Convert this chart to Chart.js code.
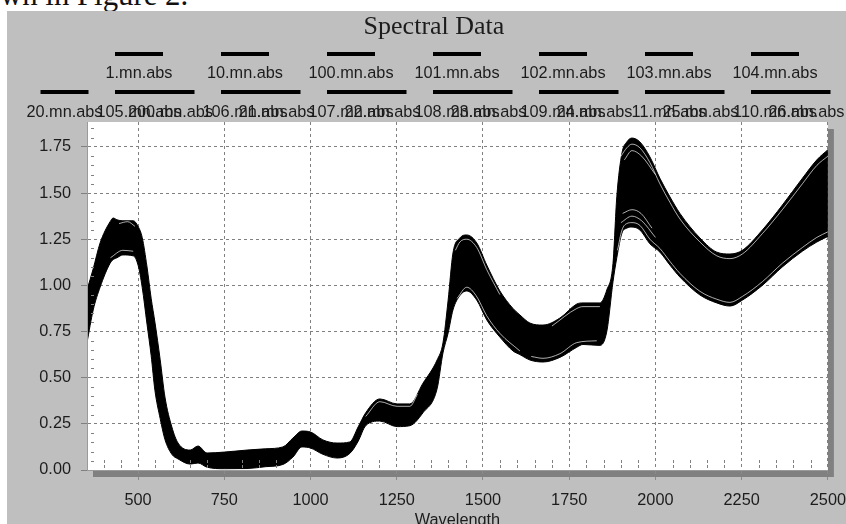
<!DOCTYPE html>
<html>
<head>
<meta charset="utf-8">
<title>Spectral Data</title>
<script src="https://cdn.jsdelivr.net/npm/chart.js@4"></script>
<style>
    html, body { margin: 0; padding: 0; background: #fff; width: 846px; height: 524px; overflow: hidden; }
    #caption { position: absolute; left: 0; top: -20px; font: 30.8px/30px "Liberation Serif", serif; color: #111; white-space: pre; }
    #panel { position: absolute; left: 7px; top: 11px; width: 839px; height: 513px; background: #bfbfbf; }
    #wrap { position: absolute; left: 0; top: 0; width: 846px; height: 524px; overflow: hidden; }
</style>
</head>
<body>
<div id="caption">wn in Figure 2.</div>
<div id="panel"></div>
<div id="wrap"><canvas id="graph" width="854" height="524"></canvas></div>
<script>
const chartTitle = 'Spectral Data';
const xTitle = 'Wavelength';

const xTicks = [500, 750, 1000, 1250, 1500, 1750, 2000, 2250, 2500];
const yTicks = [0, 0.25, 0.5, 0.75, 1, 1.25, 1.5, 1.75];

const legendRow1 = ['1.mn.abs', '10.mn.abs', '100.mn.abs', '101.mn.abs', '102.mn.abs', '103.mn.abs', '104.mn.abs'];
const legendRow2a = ['105.mn.abs', '106.mn.abs', '107.mn.abs', '108.mn.abs', '109.mn.abs', '11.mn.abs', '110.mn.abs'];
const legendRow2b = ['20.mn.abs', '200.mn.abs', '21.mn.abs', '22.mn.abs', '23.mn.abs', '24.mn.abs', '25.mn.abs', '26.mn.abs'];

// Envelope of all the spectra
const wavelengths = [352, 370, 390, 419, 428, 439, 456, 486, 500, 512, 526, 538, 549, 564, 578, 598, 616, 651, 674, 700,
    750, 816, 870, 920, 949, 975, 1000, 1036, 1077, 1114, 1138, 1160, 1201, 1251, 1288, 1326, 1367, 1384, 1399, 1413,
    1433, 1453, 1482, 1511, 1549, 1587, 1607, 1636, 1674, 1723, 1772, 1790, 1839, 1859, 1877, 1888, 1903, 1917, 1932, 1955,
    1984, 2013, 2042, 2071, 2129, 2178, 2216, 2252, 2310, 2368, 2426, 2468, 2500];
const upperEdge = [0.975, 1.09, 1.23, 1.345, 1.365, 1.355, 1.35, 1.35, 1.32, 1.26, 1.10, 0.93, 0.80, 0.60, 0.395, 0.233, 0.146, 0.108, 0.13, 0.092,
    0.097, 0.108, 0.115, 0.125, 0.173, 0.211, 0.206, 0.163, 0.146, 0.152, 0.233, 0.31, 0.385, 0.358, 0.358, 0.47, 0.596, 0.688, 0.92, 1.175,
    1.257, 1.273, 1.23, 1.11, 0.97, 0.875, 0.84, 0.796, 0.785, 0.823, 0.899, 0.905, 0.905, 0.975, 1.12, 1.48, 1.717, 1.777, 1.798, 1.777,
    1.696, 1.58, 1.48, 1.39, 1.257, 1.18, 1.17, 1.19, 1.30, 1.435, 1.58, 1.68, 1.735];
const lowerEdge = [0.69, 0.867, 0.99, 1.12, 1.14, 1.15, 1.165, 1.16, 1.11, 0.99, 0.79, 0.62, 0.43, 0.28, 0.165, 0.085, 0.06, 0.032, 0.038, 0.015,
    0.007, 0.008, 0.018, 0.03, 0.07, 0.125, 0.119, 0.085, 0.065, 0.09, 0.155, 0.24, 0.265, 0.235, 0.24, 0.31, 0.44, 0.634, 0.742, 0.867,
    0.945, 0.97, 0.92, 0.813, 0.72, 0.645, 0.625, 0.596, 0.585, 0.61, 0.665, 0.68, 0.675, 0.75, 1.02, 1.15, 1.284, 1.31, 1.316, 1.30,
    1.225, 1.18, 1.11, 1.045, 0.948, 0.905, 0.888, 0.92, 1.00, 1.10, 1.185, 1.235, 1.265];

// White slits left between the outermost spectra and the dense band
const slitPeakTopX = [1900, 1917, 1932, 1955, 1984, 2013, 2042, 2071, 2129, 2178, 2216, 2252, 2310, 2368, 2426, 2468, 2500];
const slitPeakTopY = [1.70, 1.745, 1.765, 1.745, 1.665, 1.55, 1.45, 1.36, 1.235, 1.16, 1.145, 1.17, 1.28, 1.41, 1.55, 1.65, 1.70];
const slitPeakTop2X = [1910, 1932, 1960, 2000];
const slitPeakTop2Y = [1.68, 1.73, 1.70, 1.60];
const slitPeakLowX = [1890, 1903, 1917, 1932, 1955, 1984, 2013, 2042, 2071, 2129, 2178, 2216, 2252, 2310, 2368, 2426, 2468, 2500];
const slitPeakLowY = [1.19, 1.30, 1.335, 1.34, 1.325, 1.25, 1.20, 1.13, 1.065, 0.968, 0.925, 0.908, 0.94, 1.02, 1.12, 1.205, 1.26, 1.29];
const slitPeakLow2X = [1900, 1932, 1960, 2000];
const slitPeakLow2Y = [1.34, 1.375, 1.35, 1.26];
const slitPeakLow3X = [1905, 1932, 1958, 1990];
const slitPeakLow3Y = [1.39, 1.41, 1.39, 1.31];
const slitWaterTopX = [1420, 1433, 1453, 1482, 1511, 1549];
const slitWaterTopY = [1.19, 1.235, 1.25, 1.205, 1.085, 0.95];
const slitWaterLowX = [1425, 1453, 1480, 1511, 1549, 1607];
const slitWaterLowY = [0.93, 0.99, 0.945, 0.835, 0.74, 0.645];
const slitShoulderTopX = [1700, 1772, 1790, 1839];
const slitShoulderTopY = [0.78, 0.875, 0.885, 0.885];
const slitShoulderLowX = [1640, 1674, 1723, 1772, 1830];
const slitShoulderLowY = [0.615, 0.605, 0.63, 0.69, 0.70];
const slitRidgeX = [1160, 1201, 1251, 1288, 1310];
const slitRidgeY = [0.29, 0.37, 0.345, 0.345, 0.41];
const slitVisTopX = [445, 470, 491];
const slitVisTopY = [1.335, 1.345, 1.32];
const slitVisLowX = [420, 456, 486];
const slitVisLowY = [1.15, 1.19, 1.185];

const slits = [
    [slitPeakTopX, slitPeakTopY], [slitPeakTop2X, slitPeakTop2Y], [slitPeakLowX, slitPeakLowY],
    [slitPeakLow2X, slitPeakLow2Y], [slitPeakLow3X, slitPeakLow3Y], [slitWaterTopX, slitWaterTopY],
    [slitWaterLowX, slitWaterLowY], [slitShoulderTopX, slitShoulderTopY], [slitShoulderLowX, slitShoulderLowY],
    [slitRidgeX, slitRidgeY], [slitVisTopX, slitVisTopY], [slitVisLowX, slitVisLowY]
];

const points = (xs, ys) => xs.map((x, i) => ({ x: x, y: ys[i] }));

const datasets = [
    {
        label: 'upper',
        data: points(wavelengths, upperEdge),
        borderColor: '#000',
        backgroundColor: '#000',
        borderWidth: 1,
        fill: '+1',
        order: 2
    },
    {
        label: 'lower',
        data: points(wavelengths, lowerEdge),
        borderColor: '#000',
        borderWidth: 1,
        fill: false,
        order: 2
    }
];
slits.forEach(function (s, i) {
    datasets.push({
        label: 'slit ' + i,
        data: points(s[0], s[1]),
        borderColor: 'rgba(255, 255, 255, 0.85)',
        borderWidth: 0.8,
        fill: false,
        order: 1
    });
});

const sansFont = '"Liberation Sans", Arial, sans-serif';
const textColor = '#1c1c1c';
const textSize = 16.3;

// Panel decoration: white plot, drop shadow, legend, title, small inner ticks
const frame = {
    id: 'frame',
    beforeDraw(chart) {
        const { ctx, chartArea: a } = chart;
        ctx.save();
        ctx.fillStyle = '#808080';
        ctx.fillRect(a.left + 6, a.top + 7, a.width, a.height);
        ctx.fillStyle = '#fff';
        ctx.fillRect(a.left, a.top, a.width, a.height);

        ctx.fillStyle = textColor;
        ctx.textAlign = 'center';
        ctx.textBaseline = 'middle';
        ctx.font = '26px "Liberation Serif", serif';
        ctx.fillText(chartTitle, 434, 27);

        const entry = function (name, cx, lineY, textY) {
            ctx.fillStyle = '#000';
            ctx.fillRect(cx - 24, lineY - 2, 48, 4);
            ctx.fillStyle = textColor;
            ctx.font = textSize + 'px ' + sansFont;
            ctx.fillText(name, cx, textY);
        };
        legendRow1.forEach((n, i) => entry(n, 139 + i * 106, 54, 74));
        legendRow2a.forEach((n, i) => entry(n, 139 + i * 106, 92, 113));
        legendRow2b.forEach((n, i) => entry(n, 64.5 + i * 106, 92, 113));
        ctx.restore();
    },
    afterDatasetsDraw(chart) {
        const { ctx, chartArea: a, scales } = chart;
        ctx.save();
        ctx.strokeStyle = '#808080';
        ctx.lineWidth = 1;
        ctx.setLineDash([3, 2]);
        ctx.beginPath();
        for (let w = 400; w <= 2450; w += 50) {
            if (w % 250 === 0) continue;
            const x = Math.round(scales.x.getPixelForValue(w)) + 0.5;
            ctx.moveTo(x, a.bottom - 10);
            ctx.lineTo(x, a.bottom - 2);
        }
        for (let v = 5; v <= 185; v += 5) {
            if (v % 25 === 0) continue;
            const y = Math.round(scales.y.getPixelForValue(v / 100)) + 0.5;
            ctx.moveTo(a.left + 4, y);
            ctx.lineTo(a.left + 8, y);
        }
        ctx.stroke();
        ctx.setLineDash([]);
        ctx.strokeStyle = '#9a9a9a';
        ctx.beginPath();
        ctx.moveTo(a.left + 0.5, a.top);
        ctx.lineTo(a.left + 0.5, a.bottom);
        ctx.stroke();
        ctx.restore();
    }
};

new Chart(document.getElementById('graph'), {
    type: 'line',
    data: { datasets: datasets },
    plugins: [frame],
    options: {
        responsive: false,
        animation: false,
        parsing: false,
        normalized: true,
        cubicInterpolationMode: 'monotone',
        layout: { autoPadding: false, padding: { left: 0, top: 122, right: 10, bottom: 0 } },
        elements: { point: { radius: 0 } },
        plugins: {
            legend: { display: false },
            title: { display: false },
            tooltip: { enabled: false }
        },
        scales: {
            x: {
                type: 'linear',
                min: 352,
                max: 2500,
                afterBuildTicks: (axis) => { axis.ticks = xTicks.map((v) => ({ value: v })); },
                afterFit: (axis) => { axis.height = 54; },
                grid: {
                    color: '#808080',
                    tickColor: '#8a8a8a',
                    tickBorderDash: [3, 3],
                    tickLength: 13
                },
                border: { color: '#9a9a9a', dash: [3, 3] },
                ticks: {
                    color: textColor,
                    font: { family: sansFont, size: textSize },
                    padding: 8,
                    maxRotation: 0,
                    autoSkip: false,
                    callback: (v) => String(v)
                },
                title: {
                    display: true,
                    text: xTitle,
                    color: textColor,
                    font: { family: sansFont, size: textSize },
                    padding: { top: 0, bottom: -6 }
                }
            },
            y: {
                type: 'linear',
                min: 0,
                max: 1.885,
                afterBuildTicks: (axis) => { axis.ticks = yTicks.map((v) => ({ value: v })); },
                afterFit: (axis) => { axis.width = 87; },
                grid: {
                    color: '#808080',
                    tickColor: '#808080',
                    tickBorderDash: [],
                    tickLength: 6
                },
                border: { color: '#9a9a9a', dash: [3, 3] },
                ticks: {
                    color: textColor,
                    font: { family: sansFont, size: textSize },
                    padding: 10,
                    callback: (v) => v.toFixed(2)
                }
            }
        }
    }
});
</script>
</body>
</html>
